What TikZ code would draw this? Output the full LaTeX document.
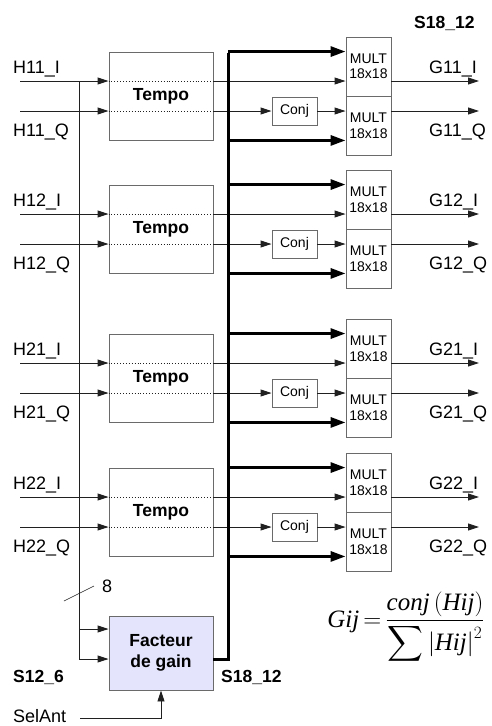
\documentclass[tikz,border=0pt]{standalone}
\usepackage{amsmath}
\usepackage{fontspec}
\setmainfont{Liberation Sans}
\newfontfamily\formfont{Liberation Serif}
\usetikzlibrary{arrows.meta, calc}

\newcommand{\fv}[1]{\text{\formfont\itshape #1}}

\begin{document}
\begin{tikzpicture}[x=1pt, y=-1pt,
    sig/.style={draw=lineColour, line width=0.9pt, -{Triangle[length=11pt,width=7pt]}},
    wire/.style={draw=lineColour, line width=0.9pt},
    bus/.style={draw=black, line width=3pt, -{Triangle[length=15pt,width=10pt]}},
    box/.style={draw=borderColour, line width=0.9pt, inner sep=0pt, align=center},
    tempobox/.style={box, minimum width=104pt, minimum height=88pt, font=\fontsize{17.5}{20}\selectfont\bfseries},
    multbox/.style={box, minimum width=45pt, minimum height=59pt, font=\fontsize{14}{15.5}\selectfont},
    conjbox/.style={box, minimum width=45pt, minimum height=28pt, font=\fontsize{14}{15}\selectfont},
    gainbox/.style={box, fill=fillColour, minimum width=104pt, minimum height=74pt, font=\fontsize{17.5}{21}\selectfont\bfseries},
    lbl/.style={anchor=base west, inner sep=0pt, font=\fontsize{18}{20}\selectfont},
    blbl/.style={lbl, font=\fontsize{17.5}{20}\selectfont\bfseries}]
    % Define colours
    \definecolor{borderColour}{HTML}{6A6A6A}
    \definecolor{lineColour}{HTML}{202020}
    \definecolor{fillColour}{HTML}{E4E4FC}

    \useasboundingbox (0,0) rectangle (491,726);

    % Bus and tap positions
    \coordinate (bus) at (228,0);
    \coordinate (tapTop) at (79,81);
    \coordinate (tapMid) at (79,629);
    \coordinate (tapBot) at (79,659);

    % Draw the four channels
    \foreach \g/\yy/\lab in {1/81/11, 2/214/12, 3/363/21, 4/497/22} {
        \node[tempobox] (tempo\g) at (161,\yy+15) {Tempo};
        \node[multbox] (multI\g) at (368.5,\yy-14.5) {MULT\\18x18};
        \node[multbox] (multQ\g) at (368.5,\yy+44.5) {MULT\\18x18};
        \node[conjbox] (conj\g) at (294.5,\yy+30) {Conj};

        \coordinate (inI\g) at (20,\yy);
        \coordinate (inQ\g) at (20,\yy+30);
        \coordinate (outI\g) at (479,\yy);
        \coordinate (outQ\g) at (479,\yy+30);

        % I path
        \draw[sig] (inI\g) -- (inI\g -| tempo\g.west);
        \draw[wire, dotted] (inI\g -| tempo\g.west) -- (inI\g -| tempo\g.east);
        \draw[sig] (inI\g -| tempo\g.east) -- (inI\g -| multI\g.west);
        \draw[sig] (inI\g -| multI\g.east) -- (outI\g);

        % Q path
        \draw[sig] (inQ\g) -- (inQ\g -| tempo\g.west);
        \draw[wire, dotted] (inQ\g -| tempo\g.west) -- (inQ\g -| tempo\g.east);
        \draw[sig] (inQ\g -| tempo\g.east) -- (conj\g.west);
        \draw[sig] (conj\g.east) -- (conj\g.east -| multQ\g.west);
        \draw[sig] (inQ\g -| multQ\g.east) -- (outQ\g);

        % Gain bus branches
        \draw[bus] (tempo\g.north -| bus) -- (tempo\g.north -| multI\g.west);
        \draw[bus] (tempo\g.south -| bus) -- (tempo\g.south -| multQ\g.west);

        % Labels
        \node[lbl] (hI\g) at (13,\yy-8) {H\lab\_I};
        \node[lbl] (hQ\g) at (13,\yy+55) {H\lab\_Q};
        \node[lbl] (gI\g) at (429,\yy-8) {G\lab\_I};
        \node[lbl] (gQ\g) at (429,\yy+55) {G\lab\_Q};
    }

    % Gain factor block
    \node[gainbox] (gain) at (161,653) {Facteur\\de gain};
    \draw[wire] (tapTop) -- (tapBot);
    \draw[sig] (tapMid) -- (tapMid -| gain.west);
    \draw[sig] (tapBot) -- (tapBot -| gain.west);
    \draw[line width=3pt, line join=miter] (tapBot -| gain.east) -- (tapBot -| bus) -- ([yshift=-1.5pt]tempo1.north -| bus);

    % Bus width mark
    \draw[wire, line width=0.6pt] (64,601) -- (94,586);
    \node[lbl] (width) at (102,592) {8};

    % Antenna select
    \node[lbl] (selant) at (13,722) {SelAnt};
    \coordinate (selIn) at (80,718);
    \draw[sig] (selIn) -- (selIn -| gain.south) -- (gain.south);

    % Bus formats
    \node[blbl] (fmtTop) at (414,28) {S18\_12};
    \node[blbl] (fmtIn) at (13,682) {S12\_6};
    \node[blbl] (fmtOut) at (221,682) {S18\_12};

    % Formula
    \node[inner sep=0pt, font=\fontsize{25}{30}\selectfont] (formula) at (406,628)
        {$\fv{Gij}\,{=}\,\dfrac{\fv{conj}\,(\fv{Hij})}{\displaystyle\sum\left|\fv{Hij}\right|^{2}}$};
\end{tikzpicture}
\end{document}
